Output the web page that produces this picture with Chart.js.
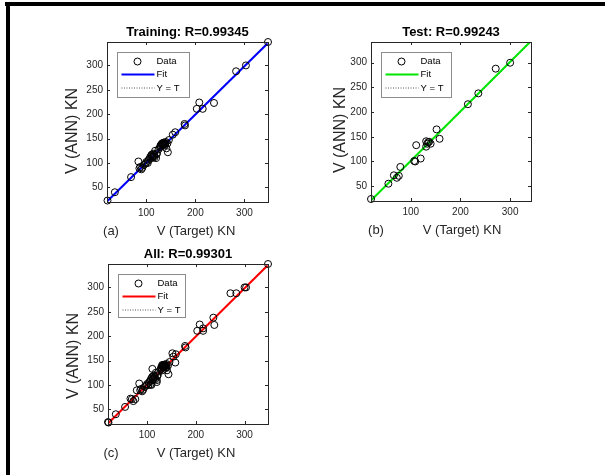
<!DOCTYPE html>
<html>
<head>
<meta charset="utf-8">
<script src="https://cdn.jsdelivr.net/npm/chart.js@4.4.0/dist/chart.umd.min.js"></script>
<style>
  html, body { margin: 0; padding: 0; background: #fff; }
  #wrap { position: relative; width: 605px; height: 475px; overflow: hidden; background: #fff; }
  #wrap canvas { position: absolute; left: 0; top: 0; }
  .bar-top  { position: absolute; left: 5px; top: 2px; width: 600px; height: 4px; background: #000; }
  .bar-left { position: absolute; left: 6px; top: 2px; width: 4px; height: 473px; background: #000; }
</style>
</head>
<body>
<div id="wrap">
  <div class="bar-top"></div>
  <div class="bar-left"></div>
  <canvas id="cTrain" width="605" height="475"></canvas>
  <canvas id="cTest"  width="605" height="475"></canvas>
  <canvas id="cAll"   width="605" height="475"></canvas>
</div>
<script>
// ─── Data (target vs. network output, kN) ───
const TRAIN_T = [21, 36, 69, 84, 86, 88, 90, 92, 95, 99, 100, 103, 104, 106, 108, 110, 111,
                 112, 113, 114, 115, 116, 117, 118, 120, 121, 122, 125, 128, 129, 130, 131,
                 132, 133, 134, 135, 136, 137, 138, 139, 140, 141, 143, 144, 146, 154, 159,
                 178, 179, 203, 208, 215, 238, 283, 303, 348];
const TRAIN_Y = [23, 40, 71, 103, 89, 92, 87, 90, 96, 99, 102, 100, 105, 108, 112, 115, 117,
                 110, 113, 119, 114, 116, 112, 125, 110, 118, 120, 128, 132, 136, 134, 138,
                 140, 137, 141, 139, 142, 138, 136, 140, 143, 130, 140, 122, 147, 158, 163,
                 180, 177, 211, 224, 211, 223, 288, 300, 348];

const TEST_T = [20, 55, 66, 72, 76, 79, 107, 109, 111, 120, 131, 131, 133, 135, 137, 140,
                152, 158, 215, 236, 271, 300];
const TEST_Y = [24, 55, 72, 67, 71, 89, 101, 100, 133, 106, 141, 130, 136, 139, 140, 136,
                165, 146, 216, 238, 288, 300];

// fit line end points (target, output) and axis limits
const FIT_TRAIN_X = [21, 347];  const FIT_TRAIN_Y = [22, 345];
const FIT_TEST_X  = [20, 341];  const FIT_TEST_Y  = [21, 343];
const FIT_ALL_X   = [21, 347];  const FIT_ALL_Y   = [22, 345];

const LIM_TRAIN = [20, 348];
const LIM_TEST  = [20, 342];
const LIM_ALL   = [20, 348];

const X_TICKS = [100, 200, 300];
const Y_TICKS = [50, 100, 150, 200, 250, 300];

const ALL_T = TRAIN_T.concat(TEST_T);
const ALL_Y = TRAIN_Y.concat(TEST_Y);

// ─── Style ───
const FONT   = "'Liberation Sans', Arial, Helvetica, sans-serif";
const AXIS_C = '#262626';
const YW = 40, XH = 20;

const PANELS = [
  { id: 'cTrain', title: 'Training: R=0.99345', tag: '(a)', color: '#0000ff',
    t: TRAIN_T, y: TRAIN_Y, fx: FIT_TRAIN_X, fy: FIT_TRAIN_Y, lim: LIM_TRAIN,
    area: { left: 107, top: 42, right: 268, bottom: 202 },
    tagX: 111, xlabX: 196, ylabX: 73, ylabY: 131, legW: 72, legH: 45 },
  { id: 'cTest', title: 'Test: R=0.99243', tag: '(b)', color: '#00e600',
    t: TEST_T, y: TEST_Y, fx: FIT_TEST_X, fy: FIT_TEST_Y, lim: LIM_TEST,
    area: { left: 371, top: 42, right: 531, bottom: 201 },
    tagX: 376, xlabX: 462, ylabX: 341, ylabY: 130, legW: 70, legH: 45 },
  { id: 'cAll', title: 'All: R=0.99301', tag: '(c)', color: '#ff0000',
    t: ALL_T, y: ALL_Y, fx: FIT_ALL_X, fy: FIT_ALL_Y, lim: LIM_ALL,
    area: { left: 108, top: 264, right: 268, bottom: 424 },
    tagX: 111, xlabX: 196, ylabX: 74, ylabY: 356, legW: 67, legH: 43 }
];

function pairs(xs, ys) {
  return xs.map((v, i) => ({ x: v, y: ys[i] }));
}

// box, inward ticks, title, axis labels and the in-axes legend
function framePlugin(p) {
  return {
    id: 'frame',
    afterDraw(chart) {
      const { ctx, chartArea: a, scales: { x, y } } = chart;
      ctx.save();
      ctx.strokeStyle = AXIS_C;
      ctx.lineWidth = 1;
      ctx.strokeRect(a.left + 0.5, a.top + 0.5, a.right - a.left, a.bottom - a.top);

      ctx.beginPath();
      X_TICKS.forEach(v => {
        const px = Math.round(x.getPixelForValue(v)) + 0.5;
        ctx.moveTo(px, a.bottom); ctx.lineTo(px, a.bottom - 3);
        ctx.moveTo(px, a.top);    ctx.lineTo(px, a.top + 3);
      });
      Y_TICKS.forEach(v => {
        const py = Math.round(y.getPixelForValue(v)) + 0.5;
        ctx.moveTo(a.left, py);  ctx.lineTo(a.left + 3, py);
        ctx.moveTo(a.right, py); ctx.lineTo(a.right - 3, py);
      });
      ctx.stroke();

      // title
      ctx.fillStyle = '#000';
      ctx.textAlign = 'center';
      ctx.textBaseline = 'middle';
      ctx.font = 'bold 13px ' + FONT;
      ctx.fillText(p.title, (a.left + a.right) / 2, a.top - 10);

      // axis labels
      ctx.fillStyle = AXIS_C;
      ctx.font = '13px ' + FONT;
      ctx.fillText(p.tag, p.tagX, a.bottom + 29);
      ctx.fillText('V (Target) KN', p.xlabX, a.bottom + 29);
      ctx.save();
      ctx.translate(p.ylabX, p.ylabY);
      ctx.rotate(-Math.PI / 2);
      ctx.font = '16px ' + FONT;
      ctx.fillText('V (ANN) KN', 0, 0);
      ctx.restore();

      // legend
      const lx = a.left + 10.5, ly = a.top + 10.5;
      ctx.fillStyle = '#fff';
      ctx.fillRect(lx, ly, p.legW, p.legH);
      ctx.strokeStyle = '#8c8c8c';
      ctx.strokeRect(lx, ly, p.legW, p.legH);

      ctx.strokeStyle = '#000';
      ctx.beginPath();
      ctx.arc(lx + 20, ly + 9, 3.5, 0, Math.PI * 2);
      ctx.stroke();

      ctx.strokeStyle = p.color;
      ctx.lineWidth = 2;
      ctx.beginPath();
      ctx.moveTo(lx + 4, ly + 22); ctx.lineTo(lx + 37, ly + 22);
      ctx.stroke();

      ctx.strokeStyle = '#555';
      ctx.lineWidth = 1;
      ctx.setLineDash([1, 1.5]);
      ctx.beginPath();
      ctx.moveTo(lx + 4, ly + 35.5); ctx.lineTo(lx + 37, ly + 35.5);
      ctx.stroke();
      ctx.setLineDash([]);

      ctx.fillStyle = '#000';
      ctx.textAlign = 'left';
      ctx.font = '9.5px ' + FONT;
      ctx.fillText('Data',  lx + 39, ly + 9);
      ctx.fillText('Fit',   lx + 39, ly + 22);
      ctx.fillText('Y = T', lx + 39, ly + 36);
      ctx.restore();
    }
  };
}

function initPanel(p) {
  const el = document.getElementById(p.id);
  const a = p.area;
  new Chart(el, {
    type: 'scatter',
    data: {
      datasets: [
        {
          label: 'Data',
          data: pairs(p.t, p.y),
          pointStyle: 'circle',
          pointRadius: 3.5,
          pointBorderWidth: 1,
          pointBorderColor: '#000',
          pointBackgroundColor: 'rgba(0,0,0,0)',
          clip: false
        },
        {
          label: 'Fit',
          data: pairs(p.fx, p.fy),
          showLine: true,
          borderColor: p.color,
          borderWidth: 2,
          pointRadius: 0
        },
        {
          label: 'Y = T',
          data: pairs(p.lim, p.lim),
          showLine: true,
          borderColor: '#333',
          borderWidth: 1,
          borderDash: [1, 2],
          pointRadius: 0
        }
      ]
    },
    options: {
      responsive: false,
      animation: false,
      devicePixelRatio: 1,
      layout: {
        padding: { left: a.left - YW, top: a.top, right: 605 - a.right, bottom: 475 - a.bottom - XH }
      },
      plugins: { legend: { display: false }, tooltip: { enabled: false } },
      scales: {
        x: {
          type: 'linear', min: p.lim[0], max: p.lim[1],
          afterBuildTicks: s => { s.ticks = X_TICKS.map(v => ({ value: v })); },
          afterFit: s => { s.height = XH; },
          grid: { display: false, drawTicks: false },
          border: { display: false },
          ticks: { padding: 5, color: AXIS_C, font: { family: FONT, size: 10 }, maxRotation: 0 }
        },
        y: {
          type: 'linear', min: p.lim[0], max: p.lim[1],
          afterBuildTicks: s => { s.ticks = Y_TICKS.map(v => ({ value: v })); },
          afterFit: s => { s.width = YW; },
          grid: { display: false, drawTicks: false },
          border: { display: false },
          ticks: { padding: 4, color: AXIS_C, font: { family: FONT, size: 10 } }
        }
      }
    },
    plugins: [framePlugin(p)]
  });
}

PANELS.forEach(initPanel);
</script>
</body>
</html>
